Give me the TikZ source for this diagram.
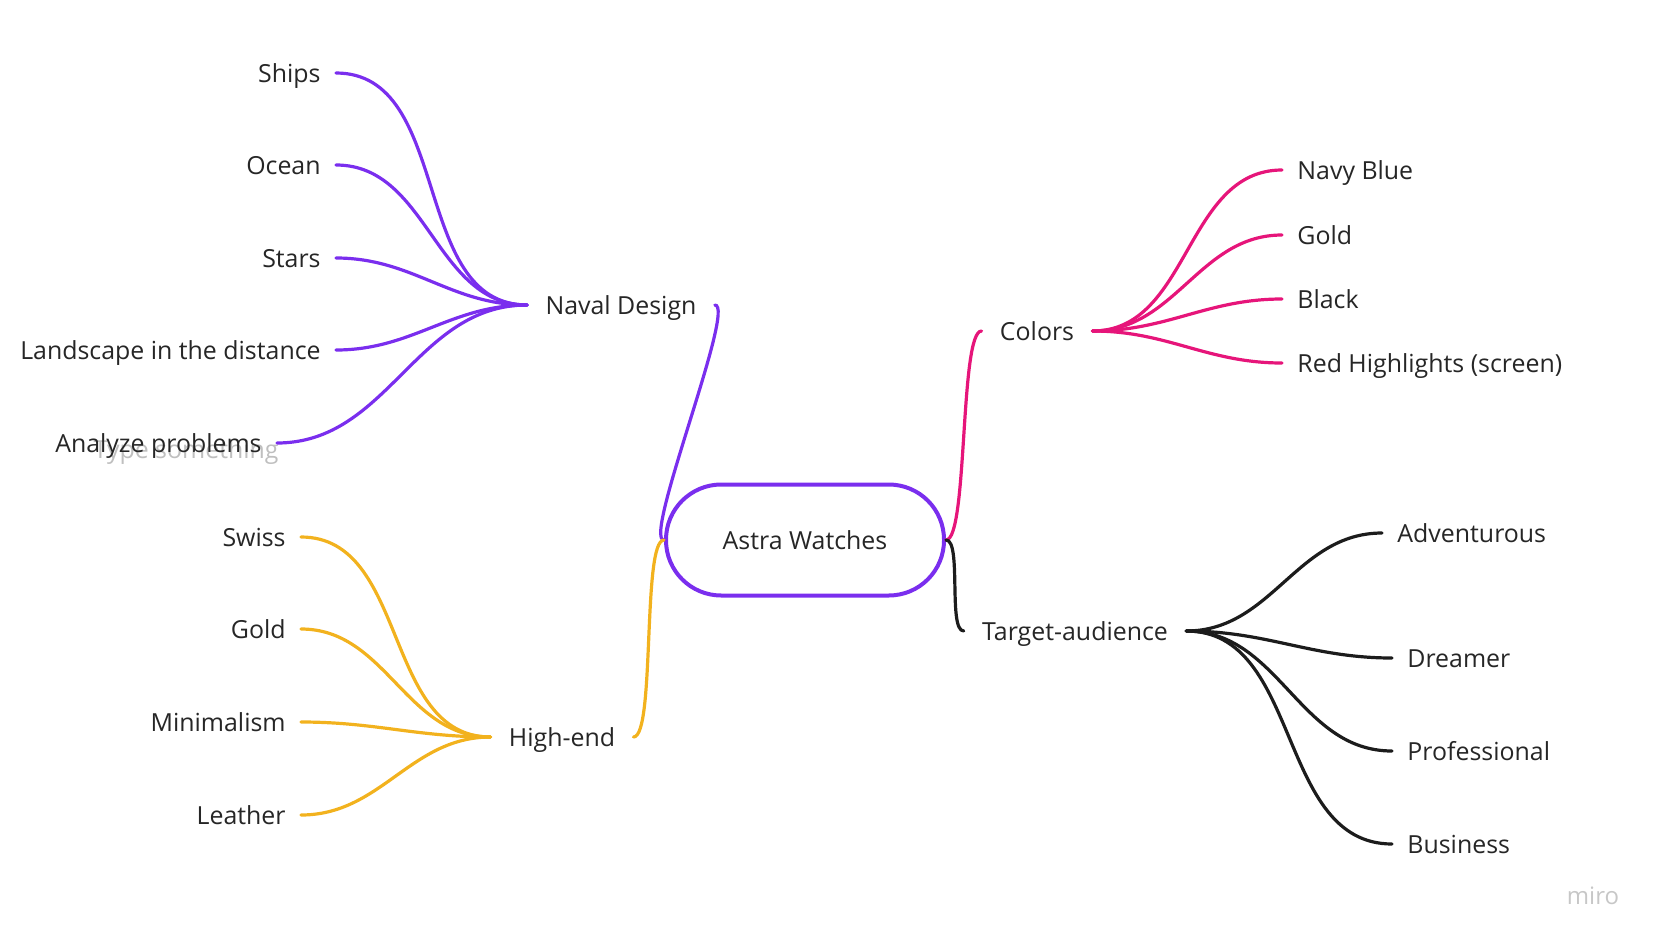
\documentclass[tikz,border=0pt]{standalone}
\usepackage{fontspec}
\setmainfont{Open Sans}
\usepackage{tikz}
\definecolor{mapviolet}{HTML}{7A2EEE}
\definecolor{mappink}{HTML}{E6157A}
\definecolor{mapgold}{HTML}{F2B21E}
\definecolor{mapink}{HTML}{1C1C1C}

\begin{document}
\begin{tikzpicture}[x=0.5pt, y=-0.5pt,
  every node/.style={font=\fontsize{12.45}{15}\selectfont, text=black!85,
    text height=1.75ex, text depth=0pt},
  leaf/.style={inner xsep=7.5pt, inner ysep=2pt},
  branch/.style={inner xsep=9pt, inner ysep=2pt},
  link/.style={line width=1.6pt, line cap=round}]
\useasboundingbox (0,0) rectangle (1658,942);

% centre
\node[draw=mapviolet, line width=2pt, rounded corners=27.6pt,
  minimum width=139pt, minimum height=55.5pt] (astra) at (805,540) {Astra Watches};

% branches
\node[branch] (naval) at (621,305) {Naval Design};
\node[branch] (highend) at (562,737) {High-end};
\node[branch] (colors) at (1037,331) {Colors};
\node[branch] (target) at (1075,631) {Target-audience};

\draw[link, mapviolet] (astra.west) .. controls +(-22,0) and +(22,0) .. (naval.east);
\draw[link, mapgold] (astra.west) .. controls +(-22,0) and +(22,0) .. (highend.east);
\draw[link, mappink] (astra.east) .. controls +(22,0) and +(-22,0) .. (colors.west);
\draw[link, mapink] (astra.east) .. controls +(16,0) and +(-16,0) .. (target.west);

% leftover placeholder text
\node[anchor=east, inner sep=0pt, text=black!25] (ghost) at (279,449) {Type something};

% naval design
\foreach \n/\x/\y/\t in {ships/336/73/Ships, ocean/336/165/Ocean, stars/336/258/Stars,
    landscape/336/350/Landscape in the distance, analyze/277/443/Analyze problems} {
  \node[leaf, anchor=east] (\n) at (\x,\y) {\t};
  \draw[link, mapviolet] (naval.west) to[out=180, in=0] (\n.east);
}

% high-end
\foreach \n/\y/\t in {swiss/537/Swiss, goldhe/629/Gold, minimal/722/Minimalism, leather/815/Leather} {
  \node[leaf, anchor=east] (\n) at (301,\y) {\t};
  \draw[link, mapgold] (highend.west) to[out=180, in=0] (\n.east);
}

% colors
\foreach \n/\y/\t in {navy/170/Navy Blue, goldc/235/Gold, black/299/Black, red/363/Red Highlights (screen)} {
  \node[leaf, anchor=west] (\n) at (1282,\y) {\t};
  \draw[link, mappink] (colors.east) to[out=0, in=180] (\n.west);
}

% target audience
\foreach \n/\x/\y/\t in {advent/1382/533/Adventurous, dreamer/1392/658/Dreamer,
    prof/1392/751/Professional, business/1392/844/Business} {
  \node[leaf, anchor=west] (\n) at (\x,\y) {\t};
  \draw[link, mapink] (target.east) to[out=0, in=180] (\n.west);
}

\node[text=black!22, font=\fontsize{12}{14}\selectfont] (logo) at (1593,895) {miro};
\end{tikzpicture}
\end{document}
